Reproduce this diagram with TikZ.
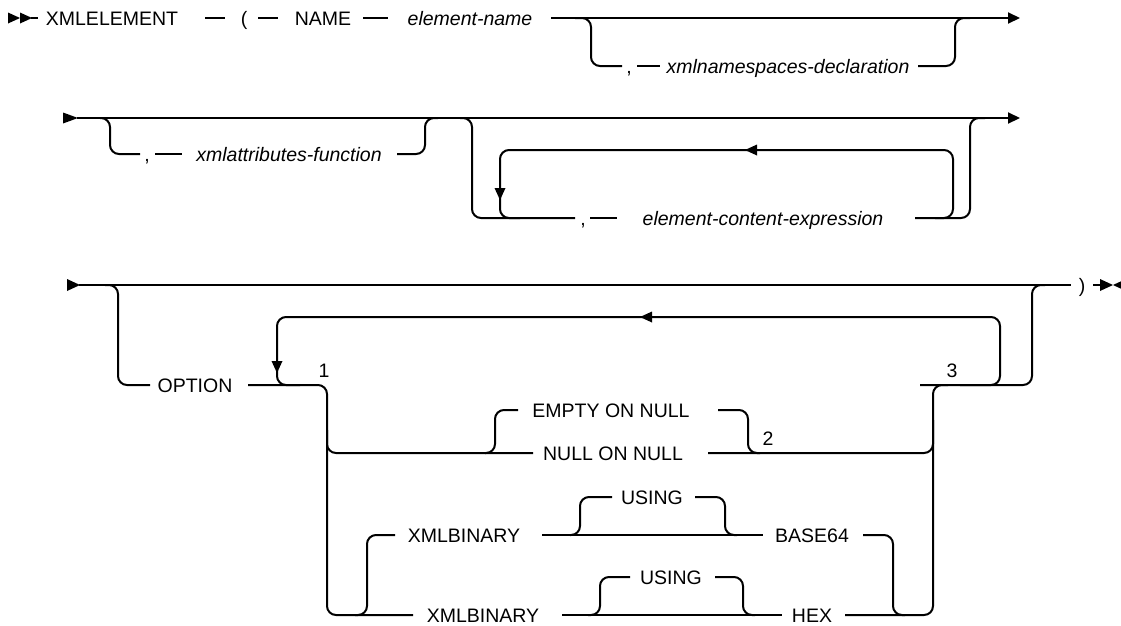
\documentclass[tikz,border=0pt]{standalone}
\usepackage{fontspec}
\setmainfont{Liberation Sans}
\usetikzlibrary{arrows.meta}
\begin{document}
\begin{tikzpicture}[x=1pt,y=-1pt,
  ln/.style={line width=2pt},
  rr/.style={line width=2pt, rounded corners=9pt},
  kw/.style={anchor=base, inner sep=0pt, font=\fontsize{19.5}{22}\selectfont},
  var/.style={kw, font=\fontsize{19.5}{22}\selectfont\itshape},
  tip/.style={-{Triangle[length=12pt,width=11pt]}, line width=2pt}
]
\useasboundingbox (0,0) rectangle (1121,625);

% ---------- Row 1 ----------
\fill (8,12.5) -- (20,18) -- (8,23.5) -- cycle;
\fill (20,12.5) -- (32,18) -- (20,23.5) -- cycle;
\node[kw] (xmlel) at (112,25) {XMLELEMENT};
\node[kw] (lp) at (244,25) {(};
\node[kw] (name) at (323,25) {NAME};
\node[var] (ename) at (470,25) {element-name};
\node[kw] (c1) at (629,73) {,};
\node[var] (nsdecl) at (788,73) {xmlnamespaces-declaration};
\draw[ln] (31,18) -- (38,18);
\draw[ln] (205,18) -- (225,18);
\draw[ln] (258,18) -- (278,18);
\draw[ln] (363,18) -- (388,18);
\draw[tip] (551,18) -- (1020,18);
\draw[rr] (575,18) -| (591,66) -- (622,66);
\draw[ln] (637,66) -- (660,66);
\draw[rr] (918,66) -| (955,18) -- (970,18);

% ---------- Row 2 ----------
\fill (63,112.5) -- (78,118) -- (63,123.5) -- cycle;
\draw[tip] (77,118) -- (1020,118);
\draw[rr] (100,118) -| (110,154) -- (140,154);
\node[kw] (c2) at (147,161) {,};
\draw[ln] (155,154) -- (182,154);
\node[var] (attr) at (289,161) {xmlattributes-function};
\draw[rr] (397,154) -| (425,118) -- (438,118);
\draw[rr] (460,118) -| (472,218) -- (575,218);
\node[kw] (c3) at (583,225) {,};
\draw[ln] (590,218) -- (617,218);
\node[var] (content) at (763,225) {element-content-expression};
\draw[rr] (915,218) -| (970,118) -- (985,118);
\draw[rr] (935,218) -| (953,150) -| (500,218) -- (520,218);
\fill (745,150) -- (757,144.5) -- (757,155.5) -- cycle;
\fill (500,200) -- (494.5,188) -- (505.5,188) -- cycle;

% ---------- Row 3 ----------
\fill (67,279) -- (80,285) -- (67,291) -- cycle;
\draw[ln] (79,285) -- (1071,285);
\node[kw] (rp) at (1082,292) {)};
\draw[ln] (1093,285) -- (1102,285);
\fill (1100,279) -- (1113,285) -- (1100,291) -- cycle;
\fill (1126,279) -- (1113,285) -- (1126,291) -- cycle;
\draw[rr] (105,285) -| (118,385) -- (150,385);
\node[kw] (opt) at (195,392) {OPTION};
\draw[rr] (248,385) -| (327,615) -- (413,615);
\draw[rr] (960,385) -| (1000,317) -| (277,385) -- (300,385);
\fill (640,317) -- (652,311.5) -- (652,322.5) -- cycle;
\fill (277,373) -- (271.5,361) -- (282.5,361) -- cycle;
\draw[rr] (920,385) -| (1032,285) -- (1045,285);
\draw[rr] (845,615) -| (933,385) -- (948,385);
\node[kw] (n1) at (324,377) {1};
\node[kw] (n3) at (952,377) {3};

% NULL choice
\draw[rr] (327,430) |- (533,453);
\node[kw] (nullnull) at (613,460) {NULL ON NULL};
\draw[rr] (485,453) -| (495,410) -- (518,410);
\node[kw] (emptynull) at (611,417) {EMPTY ON NULL};
\draw[rr] (718,410) -| (748,453) -- (760,453);
\draw[rr] (708,453) -| (933,420);
\node[kw] (n2) at (768,445) {2};

% XMLBINARY BASE64
\draw[rr] (355,615) -| (367,535) -- (395,535);
\node[kw] (xb1) at (464,542) {XMLBINARY};
\draw[ln] (542,535) -- (763,535);
\draw[rr] (570,535) -| (580,497) -- (612,497);
\node[kw] (us1) at (652,504) {USING};
\draw[rr] (695,497) -| (725,535) -- (737,535);
\node[kw] (b64) at (812,542) {BASE64};
\draw[rr] (863,535) -| (893,615) -- (905,615);

% XMLBINARY HEX
\node[kw] (xb2) at (483,622) {XMLBINARY};
\draw[ln] (562,615) -- (782,615);
\draw[rr] (588,615) -| (600,577) -- (630,577);
\node[kw] (us2) at (671,584) {USING};
\draw[rr] (715,577) -| (743,615) -- (755,615);
\node[kw] (hex) at (812,622) {HEX};
\end{tikzpicture}
\end{document}
